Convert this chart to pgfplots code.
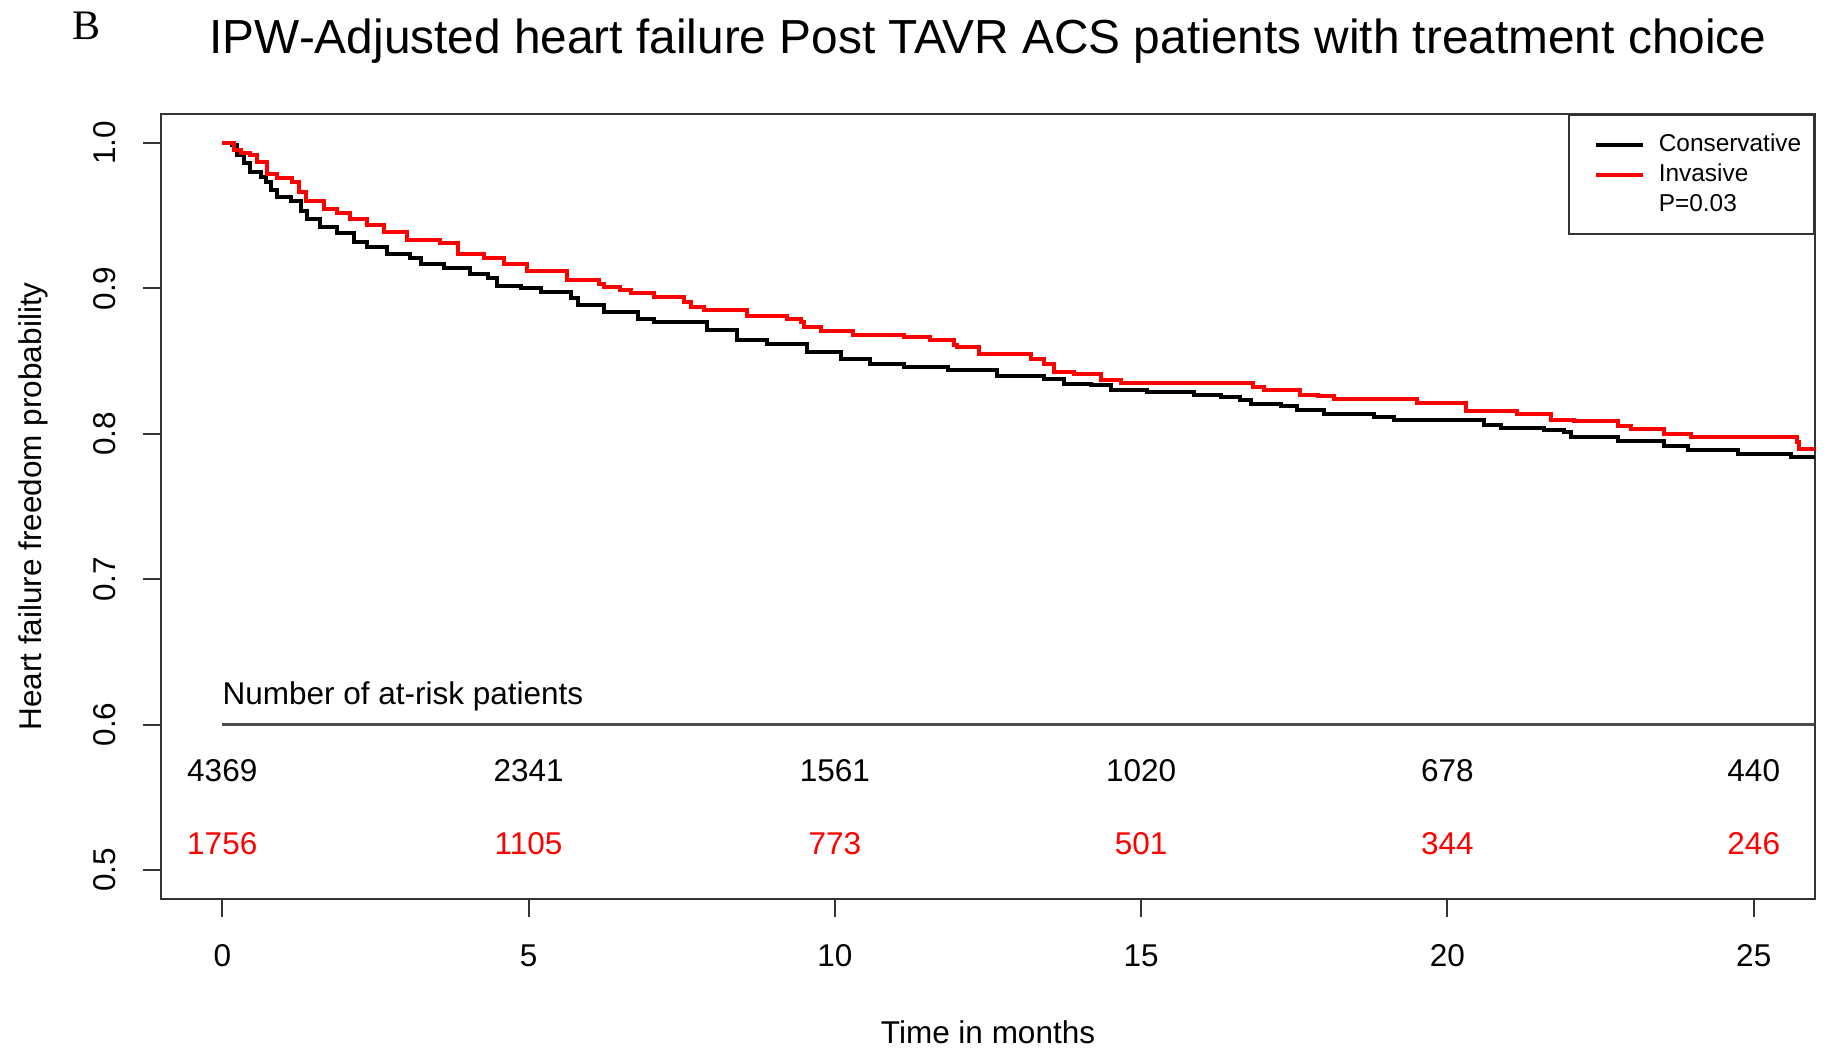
\documentclass[border=0pt]{standalone}
\usepackage{fontspec}
\setmainfont{Liberation Sans}
\newfontfamily\timesfont{Liberation Serif}
\usepackage{pgfplots}
\usepackage{pgfplotstable}
\pgfplotsset{compat=1.18}
\definecolor{axgray}{gray}{0.2}
\newcommand{\basefont}{\fontsize{15.75}{18}\selectfont}

\pgfplotstableread{
t s
0 1.000
0.16 0.999
0.245 0.992
0.35 0.986
0.46 0.980
0.63 0.977
0.71 0.9735
0.79 0.968
0.90 0.963
1.12 0.960
1.28 0.953
1.39 0.948
1.60 0.9425
1.88 0.938
2.15 0.932
2.37 0.9287
2.69 0.924
3.07 0.9207
3.24 0.917
3.62 0.914
4.05 0.910
4.33 0.907
4.49 0.902
4.87 0.900
5.20 0.8975
5.69 0.8931
5.80 0.8885
6.23 0.8839
6.78 0.8793
7.05 0.877
7.92 0.8712
8.41 0.8643
8.90 0.862
9.55 0.8563
10.10 0.8517
10.58 0.8483
11.13 0.8459
11.84 0.8437
12.65 0.8395
13.41 0.8379
13.74 0.8345
14.18 0.8333
14.50 0.8303
15.10 0.8285
15.86 0.8264
16.30 0.8252
16.62 0.8230
16.79 0.8207
17.28 0.8188
17.55 0.8161
17.99 0.8138
18.80 0.8119
19.13 0.8097
20.33 0.8092
20.60 0.8064
20.87 0.8039
21.58 0.8023
21.90 0.8011
22.01 0.7981
22.78 0.7949
23.54 0.7919
23.92 0.7890
24.74 0.7862
25.61 0.7843
26.0 0.7843
}\conservative

\pgfplotstableread{
t s
0 1.000
0.19 0.9954
0.30 0.9935
0.46 0.992
0.57 0.987
0.73 0.979
0.90 0.976
1.14 0.9735
1.25 0.9666
1.36 0.960
1.66 0.955
1.88 0.952
2.09 0.948
2.37 0.9437
2.64 0.939
3.02 0.9333
3.56 0.931
3.84 0.924
4.27 0.9207
4.60 0.917
4.98 0.9120
5.63 0.9057
6.15 0.9034
6.23 0.9007
6.50 0.8988
6.67 0.8966
7.05 0.8942
7.54 0.8908
7.65 0.8873
7.86 0.885
8.57 0.8809
9.22 0.8793
9.44 0.877
9.50 0.8735
9.77 0.8708
10.30 0.8678
11.13 0.8666
11.56 0.8643
11.94 0.8614
12.00 0.8597
12.35 0.8552
13.20 0.8517
13.41 0.8483
13.58 0.8425
13.90 0.8409
14.34 0.8372
14.67 0.8349
16.82 0.8320
17.00 0.8299
17.60 0.8269
17.88 0.8257
18.15 0.8241
19.51 0.8214
20.30 0.8160
21.14 0.8133
21.69 0.8097
22.07 0.8087
22.78 0.8057
23.00 0.8034
23.54 0.8000
23.97 0.7981
25.71 0.7942
25.74 0.7897
26.0 0.7897
}\invasive

\begin{document}
\begin{tikzpicture}
\useasboundingbox (0,0) rectangle (915pt,528.5pt);
\begin{axis}[
  at={(80.5pt,79pt)}, anchor=south west,
  scale only axis, width=827pt, height=392.5pt,
  xmin=-1, xmax=26, ymin=0.48, ymax=1.02,
  xtick={0,5,10,15,20,25},
  ytick={0.5,0.6,0.7,0.8,0.9,1.0},
  tick pos=left,
  tick align=outside,
  major tick length=9pt,
  tick style={axgray, line width=1pt},
  axis line style={axgray, line width=1pt},
  /pgf/number format/assume math mode=true,
  yticklabel style={/pgf/number format/fixed, /pgf/number format/fixed zerofill, /pgf/number format/precision=1, rotate=90, anchor=base, font=\basefont},
  xticklabel style={anchor=base, font=\basefont},
  xticklabel shift=24.85pt,
  yticklabel shift=14pt,
  legend style={at={(1,1)}, anchor=north east, draw=axgray, line width=1pt, fill=white,
    inner xsep=4.4pt, inner ysep=7.6pt, row sep=0.7pt, column sep=0pt,
    font=\fontsize{12.2}{14}\selectfont,
    cells={anchor=west}},
  legend image code/.code={\path[draw=none,fill=none] (0pt,-1pt) rectangle (38.3pt,1pt); \draw[#1] (9.06pt,0pt) -- (32.56pt,0pt);},
]
\addplot[black, line width=2pt, const plot] table[x=t, y=s] {\conservative};
\addlegendentry{Conservative}
\addplot[red, line width=2pt, const plot] table[x=t, y=s] {\invasive};
\addlegendentry{Invasive}
\addlegendimage{empty legend}
\addlegendentry{P=0.03}
\addplot[black!70, line width=1.2pt, forget plot] coordinates {(0,0.6) (26,0.6)};
\node[anchor=base west, inner sep=0pt, font=\basefont] at (axis cs:0,0.6141) {Number of at-risk patients};
\node[anchor=base, font=\basefont] at (axis cs:0,0.5609) {4369};
\node[anchor=base, font=\basefont] at (axis cs:5,0.5609) {2341};
\node[anchor=base, font=\basefont] at (axis cs:10,0.5609) {1561};
\node[anchor=base, font=\basefont] at (axis cs:15,0.5609) {1020};
\node[anchor=base, font=\basefont] at (axis cs:20,0.5609) {678};
\node[anchor=base, font=\basefont] at (axis cs:25,0.5609) {440};
\node[anchor=base, font=\basefont, text=red] at (axis cs:0,0.5103) {1756};
\node[anchor=base, font=\basefont, text=red] at (axis cs:5,0.5103) {1105};
\node[anchor=base, font=\basefont, text=red] at (axis cs:10,0.5103) {773};
\node[anchor=base, font=\basefont, text=red] at (axis cs:15,0.5103) {501};
\node[anchor=base, font=\basefont, text=red] at (axis cs:20,0.5103) {344};
\node[anchor=base, font=\basefont, text=red] at (axis cs:25,0.5103) {246};
\end{axis}
\node[anchor=base, inner sep=0pt, font=\fontsize{23.9}{28}\selectfont] at (494pt,501.5pt) {IPW-Adjusted heart failure Post TAVR ACS patients with treatment choice};
\node[anchor=base west, inner sep=0pt, font=\timesfont\fontsize{21}{25}\selectfont] at (36pt,508.85pt) {B};
\node[anchor=base, inner sep=0pt, font=\basefont] at (494pt,7pt) {Time in months};
\node[anchor=base, inner sep=0pt, rotate=90, font=\basefont] at (20.5pt,275.25pt) {Heart failure freedom probability};
\end{tikzpicture}
\end{document}
